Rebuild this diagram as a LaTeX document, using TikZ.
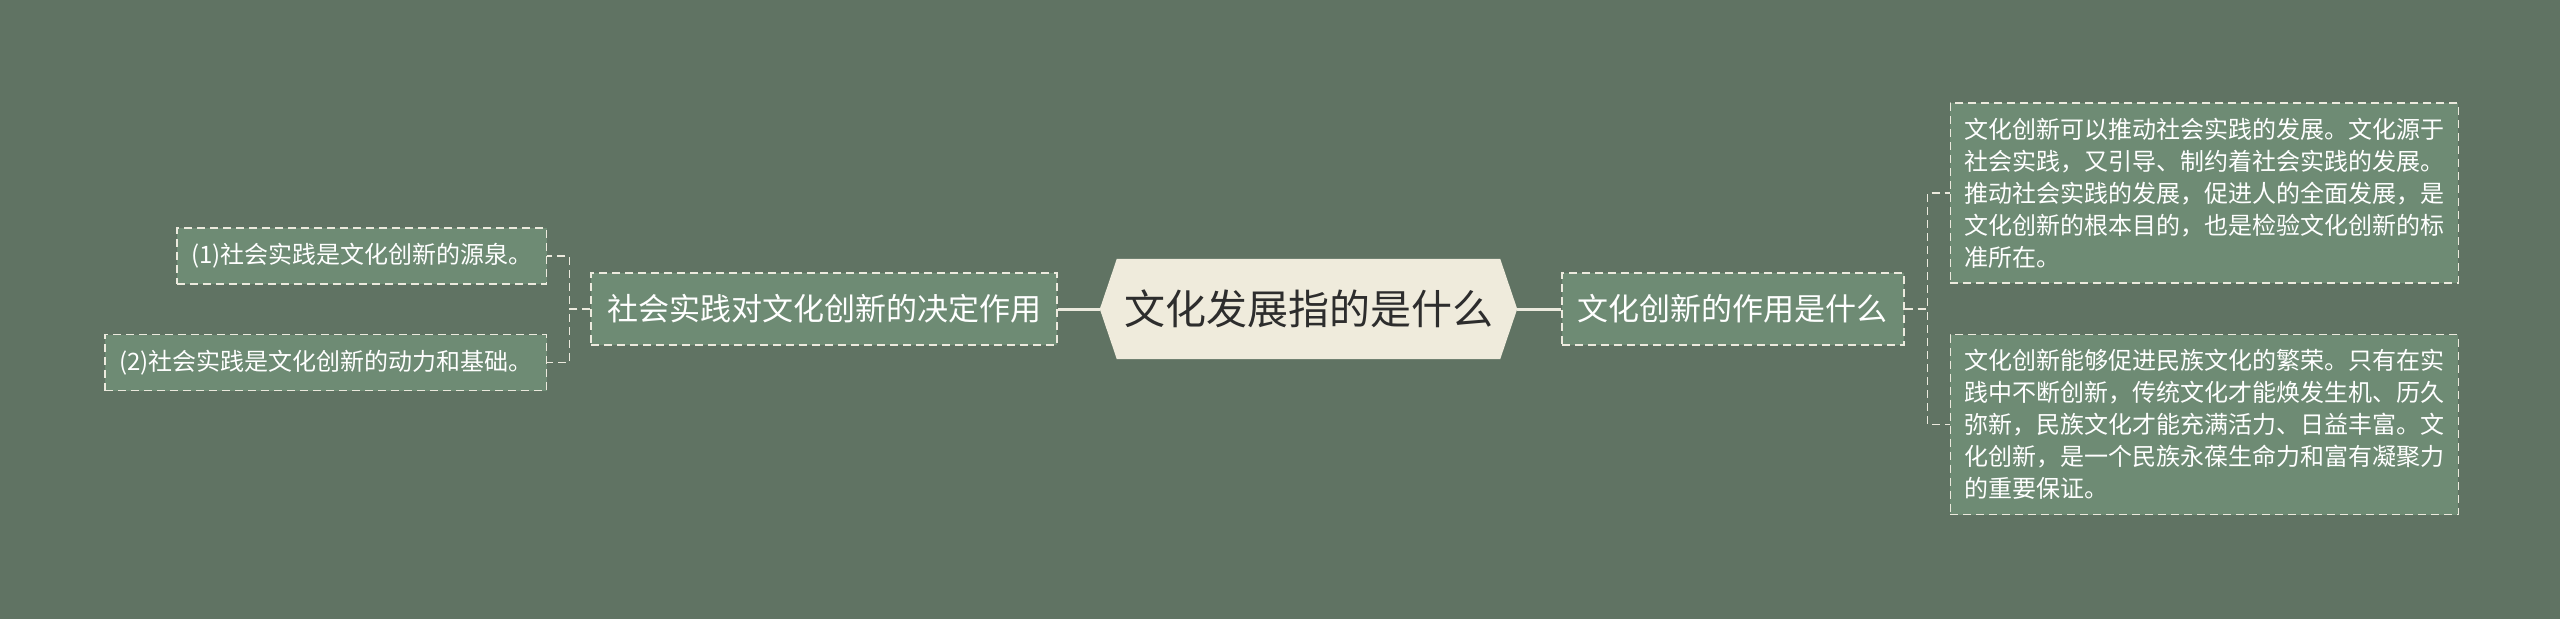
\documentclass[tikz,border=0pt]{standalone}
\usepackage{fontspec}
\setmainfont{Noto Sans CJK SC}
\usetikzlibrary{positioning, calc, backgrounds}
\definecolor{bgcol}{RGB}{96,115,99}
\definecolor{leafcol}{RGB}{110,139,116}
\definecolor{rootcol}{RGB}{239,235,220}
\definecolor{rootink}{RGB}{45,45,45}
\definecolor{linecol}{RGB}{236,234,222}

\begin{document}
\begin{tikzpicture}[x=1pt, y=-1pt]
  % Define styles
  \tikzstyle{rootbox} = [rectangle, minimum width=417pt, minimum height=100pt, inner sep=0pt, text=rootink, font=\fontsize{41}{49}\selectfont]
  \tikzstyle{branch} = [rectangle, draw=linecol, line width=1.5pt, dash pattern=on 8pt off 5pt, fill=leafcol, minimum height=72pt, inner xsep=16pt, text=white, font=\fontsize{31}{37}\selectfont]
  \tikzstyle{leaf} = [rectangle, draw=linecol, line width=1.5pt, dash pattern=on 8pt off 5pt, fill=leafcol, minimum height=56pt, inner xsep=14pt, text=white, align=left, font=\fontsize{24}{32}\selectfont]
  \tikzstyle{bigleaf} = [leaf, minimum width=508pt, minimum height=180pt]
  \tikzstyle{trunk} = [draw=linecol, line width=3pt]
  \tikzstyle{twig} = [draw=linecol, line width=1.5pt, dash pattern=on 8pt off 5pt]

  \useasboundingbox (0,0) rectangle (2560,619);

  % Place nodes
  \node [rootbox] (root) at (1308.5,309) {文化发展指的是什么};
  \node [branch, left=42pt of root] (practice) {社会实践对文化创新的决定作用};
  \node [branch, right=44pt of root] (role) {文化创新的作用是什么};
  \node [leaf, left=43pt of practice, yshift=53pt] (source) {(1)社会实践是文化创新的源泉。};
  \node [leaf, left=43pt of practice, yshift=-53.5pt] (basis) {(2)社会实践是文化创新的动力和基础。};
  \node [bigleaf, right=45pt of role, yshift=116pt] (promote) {文化创新可以推动社会实践的发展。文化源于\\社会实践，又引导、制约着社会实践的发展。\\推动社会实践的发展，促进人的全面发展，是\\文化创新的根本目的，也是检验文化创新的标\\准所在。};
  \node [bigleaf, right=45pt of role, yshift=-115.5pt] (prosper) {文化创新能够促进民族文化的繁荣。只有在实\\践中不断创新，传统文化才能焕发生机、历久\\弥新，民族文化才能充满活力、日益丰富。文\\化创新，是一个民族永葆生命力和富有凝聚力\\的重要保证。};

  % Background and root shape
  \begin{scope}[on background layer]
    \fill[bgcol] (0,0) rectangle (2560,619);
    \fill[rootcol] (root.west) -- ([xshift=17pt]root.north west) -- ([xshift=-17pt]root.north east) -- (root.east) -- ([xshift=-17pt]root.south east) -- ([xshift=17pt]root.south west) -- cycle;
  \end{scope}

  % Draw edges
  \path [trunk] (root.west) -- (practice.east);
  \path [trunk] (root.east) -- (role.west);
  \path [twig] (practice.west) -- ++(-21,0) |- (source.east);
  \path [twig] (practice.west) -- ++(-21,0) |- (basis.east);
  \path [twig] (role.east) -- ++(23,0) |- (promote.west);
  \path [twig] (role.east) -- ++(23,0) |- (prosper.west);
\end{tikzpicture}
\end{document}
